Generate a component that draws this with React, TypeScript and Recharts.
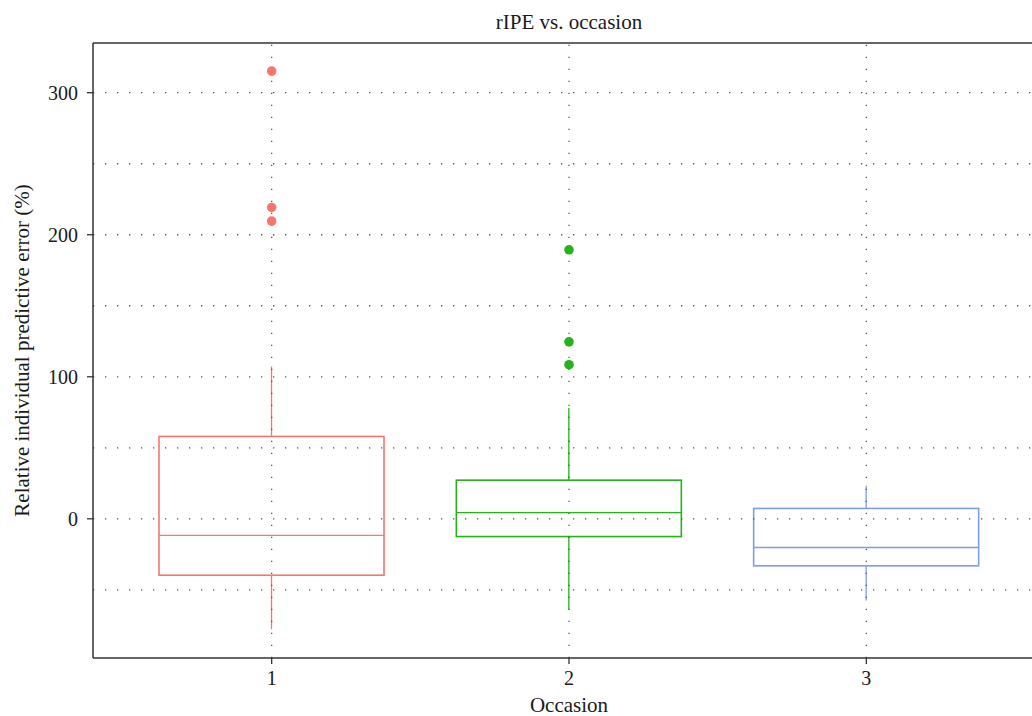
import React from 'react';
import {
  ComposedChart,
  Bar,
  Scatter,
  XAxis,
  YAxis,
  ReferenceLine,
} from 'recharts';

// values
const occasions = ['1', '2', '3'];
const boxColors = ['#F8766D', '#24B31A', '#7C9EE3'];
const whiskerLow = [-77.7, -64.1, -57.5];
const q1 = [-39.7, -12.5, -33.1];
const medians = [-11.7, 4.4, -20.2];
const q3 = [58, 27.2, 7.3];
const whiskerHigh = [107.3, 78, 23.2];
const outlierOccasion = ['1', '1', '1', '2', '2', '2'];
const outlierValues = [315.2, 219.2, 209.6, 189.4, 124.6, 108.5];

const yTicks = [0, 100, 200, 300];
const yGrid = [-50, 0, 50, 100, 150, 200, 250, 300];
const yDomain = [-98, 335];

const FONT = '"Liberation Serif", "DejaVu Serif", serif';
const AXIS = '#333333';
const GRID = '#555555';
const BOX_W = 225;

const boxData = occasions.map((occasion, i) => ({
  occasion,
  whisker: [whiskerLow[i], whiskerHigh[i]],
  box: [q1[i], q3[i]],
  median: medians[i],
  color: boxColors[i],
}));

const outlierData = outlierValues.map((value, i) => ({
  occasion: outlierOccasion[i],
  value,
  color: boxColors[occasions.indexOf(outlierOccasion[i])],
}));

const WhiskerShape = (props: any) => {
  const { x, y, width, height, payload } = props;
  const cx = x + width / 2;
  const top = Math.min(y, y + height);
  const bottom = Math.max(y, y + height);
  return <line x1={cx} x2={cx} y1={top} y2={bottom} stroke={payload.color} strokeWidth={1.3} />;
};

const BoxShape = (props: any) => {
  const { x, y, width, height, payload } = props;
  const top = Math.min(y, y + height);
  return (
    <rect
      x={x}
      y={top}
      width={width}
      height={Math.abs(height)}
      fill="#ffffff"
      stroke={payload.color}
      strokeWidth={1.6}
    />
  );
};

const MedianShape = (props: any) => {
  const { cx, cy, payload } = props;
  return (
    <line
      x1={cx - BOX_W / 2}
      x2={cx + BOX_W / 2}
      y1={cy}
      y2={cy}
      stroke={payload.color}
      strokeWidth={1.3}
    />
  );
};

const OutlierShape = (props: any) => {
  const { cx, cy, payload } = props;
  return <circle cx={cx} cy={cy} r={4.8} fill={payload.color} />;
};

const YLabel = (props: any) => {
  const { viewBox } = props;
  const lx = viewBox.x + 22;
  const ly = viewBox.y + viewBox.height / 2;
  return (
    <text
      x={lx}
      y={ly}
      transform={`rotate(-90 ${lx} ${ly})`}
      textAnchor="middle"
      dominantBaseline="central"
      fontFamily={FONT}
      fontSize={21}
      fill="#1a1a1a"
    >
      Relative individual predictive error (%)
    </text>
  );
};

const tickStyle = { fill: '#1a1a1a', fontSize: 20, fontFamily: FONT };

export default function App() {
  return (
    <div
      style={{
        position: 'absolute',
        left: 0,
        top: 0,
        width: 1032,
        height: 716,
        overflow: 'hidden',
        background: '#ffffff',
      }}
    >
      <div
        style={{
          position: 'absolute',
          left: 93,
          width: 952,
          top: 7,
          textAlign: 'center',
          fontFamily: FONT,
          fontSize: 21,
          color: '#1a1a1a',
          lineHeight: '30px',
        }}
      >
        rIPE vs. occasion
      </div>
      <ComposedChart
        width={1060}
        height={716}
        data={boxData}
        margin={{ top: 42, right: 15, bottom: 0, left: 0 }}
      >
        <XAxis
          xAxisId="main"
          dataKey="occasion"
          type="category"
          allowDuplicatedCategory={false}
          padding={{ left: 30, right: 30 }}
          height={58}
          stroke={AXIS}
          axisLine={{ stroke: AXIS, strokeWidth: 1.5 }}
          tickLine={{ stroke: AXIS, strokeWidth: 1.3 }}
          tickSize={6}
          tickMargin={7}
          tick={tickStyle}
          label={{
            value: 'Occasion',
            position: 'insideBottom',
            offset: 4,
            fill: '#1a1a1a',
            fontSize: 21,
            fontFamily: FONT,
          }}
        />
        <XAxis
          xAxisId="box"
          dataKey="occasion"
          type="category"
          orientation="top"
          allowDuplicatedCategory={false}
          padding={{ left: 30, right: 30 }}
          height={0}
          hide
        />
        <XAxis
          xAxisId="top"
          dataKey="occasion"
          type="category"
          orientation="top"
          allowDuplicatedCategory={false}
          padding={{ left: 30, right: 30 }}
          height={1}
          tick={false}
          tickLine={false}
          axisLine={{ stroke: AXIS, strokeWidth: 1.5 }}
        />
        <YAxis
          type="number"
          domain={yDomain}
          ticks={yTicks}
          allowDataOverflow
          width={93}
          axisLine={{ stroke: AXIS, strokeWidth: 1.5 }}
          tickLine={{ stroke: AXIS, strokeWidth: 1.3 }}
          tickSize={6}
          tickMargin={9}
          tick={tickStyle}
          label={<YLabel />}
        />

        <Bar
          xAxisId="main"
          dataKey="whisker"
          barSize={BOX_W}
          shape={<WhiskerShape />}
          isAnimationActive={false}
        />

        {yGrid.map((v) => (
          <ReferenceLine
            key={`gy-${v}`}
            xAxisId="main"
            y={v}
            stroke={GRID}
            strokeWidth={1.3}
            strokeDasharray="1.3 10.7"
          />
        ))}
        {occasions.map((o) => (
          <ReferenceLine
            key={`gx-${o}`}
            xAxisId="main"
            x={o}
            stroke={GRID}
            strokeWidth={1.3}
            strokeDasharray="1.3 10.7"
          />
        ))}

        <Bar
          xAxisId="box"
          dataKey="box"
          barSize={BOX_W}
          shape={<BoxShape />}
          isAnimationActive={false}
        />
        <Scatter
          xAxisId="main"
          dataKey="median"
          shape={<MedianShape />}
          isAnimationActive={false}
        />
        <Scatter
          xAxisId="main"
          data={outlierData}
          dataKey="value"
          shape={<OutlierShape />}
          isAnimationActive={false}
        />
      </ComposedChart>
    </div>
  );
}
